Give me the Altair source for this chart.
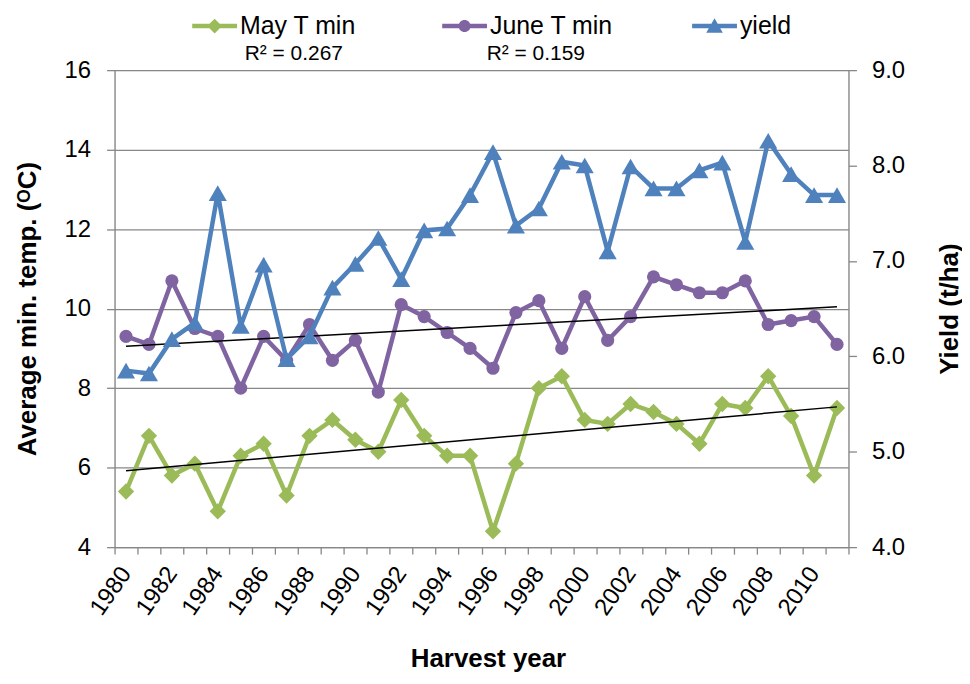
import altair as alt
import pandas as pd

years = list(range(1980, 2012))
may_tmin = [5.4, 6.8, 5.8, 6.1, 4.9, 6.3, 6.6, 5.3, 6.8, 7.2, 6.7, 6.4, 7.7, 6.8, 6.3, 6.3,
            4.4, 6.1, 8.0, 8.3, 7.2, 7.1, 7.6, 7.4, 7.1, 6.6, 7.6, 7.5, 8.3, 7.3, 5.8, 7.5]
june_tmin = [9.3, 9.1, 10.7, 9.5, 9.3, 8.0, 9.3, 8.7, 9.6, 8.7, 9.2, 7.9, 10.1, 9.8, 9.4, 9.0,
             8.5, 9.9, 10.2, 9.0, 10.3, 9.2, 9.8, 10.8, 10.6, 10.4, 10.4, 10.7, 9.6, 9.7, 9.8, 9.1]
yield_tha = [5.85, 5.82, 6.18, 6.35, 7.71, 6.32, 6.96, 5.97, 6.21, 6.72, 6.97, 7.24, 6.81, 7.32, 7.34, 7.69,
             8.14, 7.37, 7.55, 8.04, 8.00, 7.10, 7.99, 7.76, 7.76, 7.95, 8.03, 7.20, 8.26, 7.91, 7.69, 7.69]
series_names = ["May T min", "June T min", "yield"]
series_colors = ["#9BBB59", "#8064A2", "#4F81BD"]
r2_labels = ["R² = 0.267", "R² = 0.159"]
left_ticks = [4, 6, 8, 10, 12, 14, 16]
right_ticks = [4, 5, 6, 7, 8, 9]

FONT = "Liberation Sans"
GRAY = "#878787"

may_df = pd.DataFrame({"year": years, "series": series_names[0], "value": may_tmin})
june_df = pd.DataFrame({"year": years, "series": series_names[1], "value": june_tmin})
yield_df = pd.DataFrame({"year": years, "series": series_names[2], "value": yield_tha})
legend_df = pd.DataFrame({"series": series_names})

x_enc = alt.X(
    "year:O",
    bandPosition=0.5,
    scale=alt.Scale(type="band", domain=years, paddingInner=0, paddingOuter=0),
    axis=alt.Axis(
        title="Harvest year", titleFont=FONT, titleFontSize=26, titleFontWeight="bold",
        titleX=375, titleY=112, titleBaseline="middle", titleAlign="center",
        labelAngle=-55, labelFont=FONT, labelFontSize=24, labelColor="black", labelPadding=15,
        labelExpr="datum.value % 2 == 0 ? datum.label : ''",
        tickBand="extent", tickSize=7, tickColor=GRAY, tickWidth=1.3,
        domainColor=GRAY, domainWidth=1.3, grid=False,
    ),
)

y_left = alt.Y(
    "value:Q",
    scale=alt.Scale(domain=[4, 16], nice=False, zero=False),
    axis=alt.Axis(
        orient="left", values=left_ticks, title="Average min. temp. (ᴼC)",
        titleFont=FONT, titleFontSize=26, titleFontWeight="bold", titleAngle=270,
        titleX=-87, titleY=239.5, titleBaseline="middle", titleAlign="center",
        labelFont=FONT, labelFontSize=24, labelColor="black", labelPadding=16,
        tickSize=8, tickColor=GRAY, tickWidth=1.3, domainColor=GRAY, domainWidth=1.3,
        grid=True, gridColor=GRAY, gridWidth=1.3,
    ),
)

y_right = alt.Y(
    "value:Q",
    scale=alt.Scale(domain=[4, 9], nice=False, zero=False),
    axis=alt.Axis(
        orient="right", values=right_ticks, format=".1f", title="Yield (t/ha)",
        titleFont=FONT, titleFontSize=26, titleFontWeight="bold", titleAngle=270,
        titleX=101, titleY=239.5, titleBaseline="middle", titleAlign="center",
        labelFont=FONT, labelFontSize=24, labelColor="black", labelPadding=15,
        tickSize=8, tickColor=GRAY, tickWidth=1.3, domainColor=GRAY, domainWidth=1.3,
        grid=False,
    ),
)


def series_layers(df, color, shape, size, y_enc):
    base = alt.Chart(df)
    line = base.mark_line(strokeWidth=4.5, color=color).encode(x=x_enc, y=y_enc)
    pts = base.mark_point(filled=True, shape=shape, size=size, opacity=1, color=color).encode(x=x_enc, y=y_enc)
    return line, pts


may_line, may_pts = series_layers(may_df, series_colors[0], "diamond", 270, y_left)
june_line, june_pts = series_layers(june_df, series_colors[1], "circle", 175, y_left)
may_trend = alt.Chart(may_df).transform_regression("year", "value").mark_line(
    color="black", strokeWidth=1.5).encode(x=x_enc, y=y_left)
june_trend = alt.Chart(june_df).transform_regression("year", "value").mark_line(
    color="black", strokeWidth=1.5).encode(x=x_enc, y=y_left)
yield_line, yield_pts = series_layers(yield_df, series_colors[2], "triangle-up", 330, y_right)

# legend symbols: a filled bar (the line) plus the marker, in Vega's [-1,1] custom-symbol box
legend_paths = [
    "M-1,-0.1L1,-0.1L1,0.1L-1,0.1Z M0,-0.33L0.33,0L0,0.33L-0.33,0Z",
    "M-1,-0.1L1,-0.1L1,0.1L-1,0.1Z M-0.27,0A0.27,0.27,0,1,1,0.27,0A0.27,0.27,0,1,1,-0.27,0Z",
    "M-1,-0.1L1,-0.1L1,0.1L-1,0.1Z M0,-0.35L0.37,0.3L-0.37,0.3Z",
]
leg = alt.Legend(
    orient="none", legendX=78, legendY=-67, direction="horizontal", columns=3, title=None,
    labelFont=FONT, labelFontSize=25, labelColor="black", symbolSize=2025, symbolStrokeWidth=0,
    gridAlign="all", columnPadding=79, labelOffset=3, symbolOpacity=1,
)
legend_layer = alt.Chart(legend_df).transform_filter("false").mark_point(filled=True, opacity=1).encode(
    color=alt.Color("series:N", scale=alt.Scale(domain=series_names, range=series_colors), legend=leg),
    shape=alt.Shape("series:N", scale=alt.Scale(domain=series_names, range=legend_paths), legend=leg),
)

r2_a = alt.Chart(pd.DataFrame({"label": [r2_labels[0]]})).mark_text(
    font=FONT, fontSize=21, align="center", baseline="middle", color="black").encode(
    text="label:N", x=alt.value(180), y=alt.value(-16))
r2_b = alt.Chart(pd.DataFrame({"label": [r2_labels[1]]})).mark_text(
    font=FONT, fontSize=21, align="center", baseline="middle", color="black").encode(
    text="label:N", x=alt.value(423), y=alt.value(-16))

temps = alt.layer(may_line, may_pts, june_line, june_pts, may_trend, june_trend)
ylds = alt.layer(yield_line, yield_pts)

chart = alt.layer(temps, ylds, legend_layer, r2_a, r2_b).resolve_scale(y="independent").properties(
    width=737, height=479,
    autosize=alt.AutoSizeParams(type="none"),
    padding={"left": 107, "top": 61, "right": 114, "bottom": 124},
).configure_view(stroke=None).configure(background="white")

chart.save("out.html", embed_options={"renderer": "svg", "actions": False})
